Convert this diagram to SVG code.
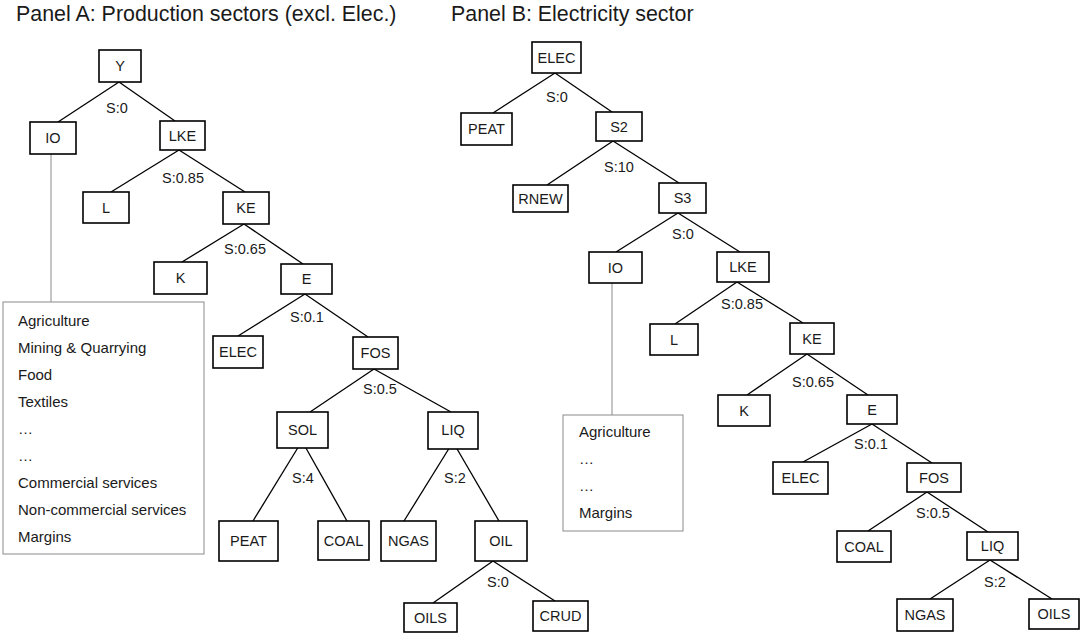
<svg xmlns="http://www.w3.org/2000/svg" width="1080" height="633" viewBox="0 0 1080 633">
<style>
.bg{fill:#fff}
.box{fill:#fff;stroke:#000;stroke-width:1.6}
.lst{fill:#fff;stroke:#8a8a8a;stroke-width:1}
.lk{stroke:#000;stroke-width:1.3;fill:none}
.gl{stroke:#8a8a8a;stroke-width:1;fill:none}
text{font-family:"Liberation Sans",Arial,sans-serif;fill:#1a1a1a}
.t{font-size:14.5px;text-anchor:middle}
.s{font-size:14.5px;text-anchor:middle}
.li{font-size:15px}
.ttl{font-size:21.4px}
</style>
<rect class="bg" x="0" y="0" width="1080" height="633"/>
<text class="ttl" x="16" y="21">Panel A: Production sectors (excl. Elec.)</text>
<text class="ttl" x="451" y="21">Panel B: Electricity sector</text>
<g id="connectors">
<!-- Panel A -->
<line class="lk" x1="119" y1="82" x2="58" y2="122"/>
<line class="lk" x1="119" y1="82" x2="175" y2="121"/>
<line class="gl" x1="51" y1="154" x2="51" y2="302"/>
<line class="lk" x1="179" y1="150" x2="111" y2="192"/>
<line class="lk" x1="179" y1="150" x2="245" y2="192"/>
<line class="lk" x1="244" y1="224" x2="182" y2="262"/>
<line class="lk" x1="244" y1="224" x2="303" y2="264"/>
<line class="lk" x1="305" y1="294" x2="238" y2="336"/>
<line class="lk" x1="305" y1="294" x2="368" y2="337"/>
<line class="lk" x1="374" y1="369" x2="310" y2="412"/>
<line class="lk" x1="374" y1="369" x2="451" y2="412"/>
<line class="lk" x1="302" y1="441" x2="253" y2="521"/>
<line class="lk" x1="302" y1="441" x2="347" y2="521"/>
<line class="lk" x1="453" y1="442" x2="404" y2="521"/>
<line class="lk" x1="453" y1="442" x2="499" y2="521"/>
<line class="lk" x1="493" y1="561" x2="433" y2="603"/>
<line class="lk" x1="493" y1="561" x2="555" y2="601"/>
<!-- Panel B -->
<line class="lk" x1="555" y1="73" x2="493" y2="113"/>
<line class="lk" x1="555" y1="73" x2="612" y2="112"/>
<line class="lk" x1="613" y1="141" x2="547" y2="185"/>
<line class="lk" x1="613" y1="141" x2="679" y2="183"/>
<line class="lk" x1="678" y1="213" x2="616" y2="252"/>
<line class="lk" x1="678" y1="213" x2="740" y2="252"/>
<line class="gl" x1="612" y1="283" x2="612" y2="415"/>
<line class="lk" x1="737" y1="282" x2="675" y2="324"/>
<line class="lk" x1="737" y1="282" x2="803" y2="323"/>
<line class="lk" x1="807" y1="354" x2="747" y2="395"/>
<line class="lk" x1="807" y1="354" x2="868" y2="395"/>
<line class="lk" x1="872" y1="424" x2="803" y2="462"/>
<line class="lk" x1="872" y1="424" x2="932" y2="463"/>
<line class="lk" x1="927" y1="492" x2="868" y2="531"/>
<line class="lk" x1="927" y1="492" x2="988" y2="532"/>
<line class="lk" x1="990" y1="560" x2="930" y2="599"/>
<line class="lk" x1="990" y1="560" x2="1052" y2="599"/>
</g>
<g id="labels">
<text class="s" x="117" y="113">S:0</text>
<text class="s" x="183" y="183">S:0.85</text>
<text class="s" x="245" y="254">S:0.65</text>
<text class="s" x="307" y="322">S:0.1</text>
<text class="s" x="380" y="394">S:0.5</text>
<text class="s" x="303" y="483">S:4</text>
<text class="s" x="455" y="483">S:2</text>
<text class="s" x="498" y="587">S:0</text>
<text class="s" x="557" y="102">S:0</text>
<text class="s" x="619" y="172">S:10</text>
<text class="s" x="683" y="239">S:0</text>
<text class="s" x="742" y="309">S:0.85</text>
<text class="s" x="813" y="387">S:0.65</text>
<text class="s" x="871" y="449">S:0.1</text>
<text class="s" x="933" y="518">S:0.5</text>
<text class="s" x="995" y="587">S:2</text>
</g>
<!-- Panel A nodes -->
<g id="a-Y"><rect class="box" x="99" y="50" width="42" height="32"/><text class="t" x="120" y="71">Y</text></g>
<g id="a-IO"><rect class="box" x="30" y="122" width="46" height="32"/><text class="t" x="53" y="143">IO</text></g>
<g id="a-LKE"><rect class="box" x="160" y="121" width="45" height="29"/><text class="t" x="182.5" y="141">LKE</text></g>
<g id="a-L"><rect class="box" x="83" y="192" width="46" height="31"/><text class="t" x="106" y="213">L</text></g>
<g id="a-KE"><rect class="box" x="223" y="192" width="46" height="32"/><text class="t" x="246" y="213">KE</text></g>
<g id="a-K"><rect class="box" x="154" y="262" width="53" height="32"/><text class="t" x="180.5" y="283">K</text></g>
<g id="a-E"><rect class="box" x="281" y="264" width="51" height="30"/><text class="t" x="306.5" y="284">E</text></g>
<g id="a-ELEC"><rect class="box" x="213" y="336" width="50" height="32"/><text class="t" x="238" y="357">ELEC</text></g>
<g id="a-FOS"><rect class="box" x="353" y="337" width="45" height="32"/><text class="t" x="375.5" y="358">FOS</text></g>
<g id="a-SOL"><rect class="box" x="277" y="412" width="51" height="36"/><text class="t" x="302.5" y="435">SOL</text></g>
<g id="a-LIQ"><rect class="box" x="428" y="412" width="50" height="37"/><text class="t" x="453" y="435">LIQ</text></g>
<g id="a-PEAT"><rect class="box" x="219" y="521" width="59" height="40"/><text class="t" x="248.5" y="546">PEAT</text></g>
<g id="a-COAL"><rect class="box" x="318" y="521" width="51" height="39"/><text class="t" x="343.5" y="546">COAL</text></g>
<g id="a-NGAS"><rect class="box" x="381" y="521" width="55" height="40"/><text class="t" x="408.5" y="546">NGAS</text></g>
<g id="a-OIL"><rect class="box" x="475" y="521" width="52" height="40"/><text class="t" x="501" y="546">OIL</text></g>
<g id="a-OILS"><rect class="box" x="404" y="603" width="53" height="29"/><text class="t" x="430.5" y="623">OILS</text></g>
<g id="a-CRUD"><rect class="box" x="533" y="601" width="55" height="30"/><text class="t" x="560.5" y="621">CRUD</text></g>
<g id="a-list">
<rect class="lst" x="3" y="302" width="201" height="252"/>
<text class="li" x="18" y="326">Agriculture</text>
<text class="li" x="18" y="353">Mining &amp; Quarrying</text>
<text class="li" x="18" y="380">Food</text>
<text class="li" x="18" y="407">Textiles</text>
<text class="li" x="18" y="434">…</text>
<text class="li" x="18" y="461">…</text>
<text class="li" x="18" y="488">Commercial services</text>
<text class="li" x="18" y="515">Non-commercial services</text>
<text class="li" x="18" y="542">Margins</text>
</g>
<!-- Panel B nodes -->
<g id="b-ELEC"><rect class="box" x="532" y="42" width="49" height="31"/><text class="t" x="556.5" y="62.5">ELEC</text></g>
<g id="b-PEAT"><rect class="box" x="461" y="113" width="51" height="32"/><text class="t" x="486.5" y="134">PEAT</text></g>
<g id="b-S2"><rect class="box" x="596" y="112" width="46" height="29"/><text class="t" x="619" y="132">S2</text></g>
<g id="b-RNEW"><rect class="box" x="513" y="185" width="55" height="27"/><text class="t" x="540.5" y="204">RNEW</text></g>
<g id="b-S3"><rect class="box" x="659" y="183" width="47" height="30"/><text class="t" x="682.5" y="203">S3</text></g>
<g id="b-IO"><rect class="box" x="589" y="252" width="53" height="31"/><text class="t" x="615.5" y="273">IO</text></g>
<g id="b-LKE"><rect class="box" x="717" y="252" width="52" height="30"/><text class="t" x="743" y="272">LKE</text></g>
<g id="b-L"><rect class="box" x="650" y="324" width="48" height="31"/><text class="t" x="674" y="345">L</text></g>
<g id="b-KE"><rect class="box" x="790" y="323" width="44" height="31"/><text class="t" x="812" y="344">KE</text></g>
<g id="b-K"><rect class="box" x="718" y="395" width="52" height="31"/><text class="t" x="744" y="416">K</text></g>
<g id="b-E"><rect class="box" x="847" y="395" width="50" height="29"/><text class="t" x="872" y="415">E</text></g>
<g id="b-ELEC2"><rect class="box" x="773" y="462" width="55" height="32"/><text class="t" x="800.5" y="483">ELEC</text></g>
<g id="b-FOS"><rect class="box" x="907" y="463" width="54" height="29"/><text class="t" x="934" y="483">FOS</text></g>
<g id="b-COAL"><rect class="box" x="837" y="531" width="54" height="31"/><text class="t" x="864" y="552">COAL</text></g>
<g id="b-LIQ"><rect class="box" x="967" y="532" width="51" height="28"/><text class="t" x="992.5" y="551">LIQ</text></g>
<g id="b-NGAS"><rect class="box" x="897" y="599" width="56" height="32"/><text class="t" x="925" y="620">NGAS</text></g>
<g id="b-OILS"><rect class="box" x="1029" y="599" width="50" height="30"/><text class="t" x="1054" y="619">OILS</text></g>
<g id="b-list">
<rect class="lst" x="563" y="415" width="120" height="116"/>
<text class="li" x="579" y="437">Agriculture</text>
<text class="li" x="579" y="464">…</text>
<text class="li" x="579" y="491">…</text>
<text class="li" x="579" y="518">Margins</text>
</g>
</svg>
